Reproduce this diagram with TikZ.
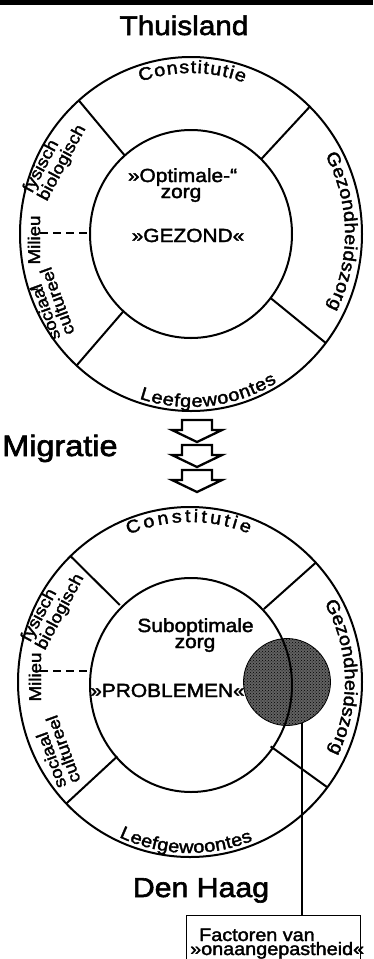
\documentclass[tikz,border=0pt]{standalone}
\usepackage{fontspec}
\setmainfont{Liberation Sans}[FakeStretch=1.1, FakeBold=2]
\newfontfamily\titlefont{Liberation Sans}[FakeStretch=1.1, FakeBold=2.2]
\usetikzlibrary{decorations.text,patterns}
\newcommand{\arcfont}{\fontsize{18}{18}\selectfont}
\begin{document}
\begin{tikzpicture}[x=1pt,y=1pt,
  ring/.style={line width=2pt},
  radial/.style={line width=2pt},
  dashline/.style={line width=2pt, dash pattern=on 8pt off 5pt},
  title/.style={inner sep=0pt, anchor=base},
  intext/.style={inner sep=0pt, anchor=base, font=\fontsize{19}{19}\selectfont},
  side/.style={inner sep=0pt, font=\fontsize{17}{15}\selectfont, align=left},
  boxtxt/.style={inner sep=0pt, anchor=base west, font=\fontsize{18}{18}\selectfont},
  arctext/.style={decorate, decoration={text along path, text={|\arcfont|#1},
     text align={fit to path}}},
  blockarrow/.style={line width=2.3pt, line join=miter, fill=white},
]
\useasboundingbox (0,0) rectangle (373,-959);
\fill (0,0) rectangle (373,-4.5);

% titles
\node[title, font=\titlefont\fontsize{27}{27}\selectfont] (thuis) at (184,-35) {Thuisland};
\node[title, anchor=base west, font=\titlefont\fontsize{29.5}{29.5}\selectfont] (migr) at (2,-456) {Migratie};
\node[title, font=\titlefont\fontsize{27.5}{27.5}\selectfont] (haag) at (201,-897) {Den Haag};

% ---------- top circle ----------
\begin{scope}[shift={(191,-234)}]
  \draw[ring] (0,0) ellipse[x radius=171, y radius=177];
  \draw[ring] (0,0) ellipse[x radius=101, y radius=104];
  \foreach \a in {131,46,-38,-132}
    \draw[radial] (\a:101 and 104) -- (\a:171 and 177);
  \path[arctext={Constitutie}] (109:155 and 161) arc[start angle=109, end angle=70, x radius=155, y radius=161];
  \path[arctext={Leefgewoontes}] (252:167 and 173) arc[start angle=252, end angle=301, x radius=167, y radius=173];
  \path[arctext={Gezondheidszorg}] (29.5:154 and 160) arc[start angle=29.5, end angle=-27.5, x radius=154, y radius=160];
\end{scope}
\draw[dashline] (40,-233) -- (89,-233);
\draw[line width=1.2pt] (31,-290) -- (38,-289);
\node[side, rotate=62] (fb1) at (55,-159) {fysisch\\biologisch};
\node[side, rotate=90] (mil1) at (34,-240) {Milieu};
\node[side, rotate=110] (sc1) at (50,-304) {sociaal\\cultureel};
\node[intext] (opt) at (182.5,-182) {»Optimale-“};
\node[intext] (zorg1) at (181,-198) {zorg};
\node[intext] (gez) at (188,-242) {»GEZOND«};

% ---------- arrows ----------
\foreach \t in {420,445,470}
  \draw[blockarrow] (182,-\t) -- (212,-\t) -- (212,-\t-10) -- (222,-\t-10)
     -- (197,-\t-22) -- (172,-\t-10) -- (182,-\t-10) -- cycle;

% ---------- bottom circle ----------
\node[circle, minimum size=87pt, inner sep=0pt, draw, line width=0.8pt,
      preaction={fill=black!62}, pattern=crosshatch dots, pattern color=black] (hatch) at (287,-682) {};
\begin{scope}[shift={(190,-682)}]
  \draw[ring] (0,0) ellipse[x radius=172, y radius=175];
  \draw[ring] (1,-3) ellipse[x radius=101, y radius=107];
  \foreach \a in {134,43,-37,-136}
    \draw[radial] (\a:101 and 107) -- (\a:172 and 175);
  \path[arctext={Constitutie}] (113:157 and 160) arc[start angle=113, end angle=68, x radius=157, y radius=160];
  \path[arctext={Leefgewoontes}] (245:168 and 171) arc[start angle=245, end angle=292, x radius=168, y radius=171];
  \path[arctext={Gezondheidszorg}] (30:155 and 158) arc[start angle=30, end angle=-25, x radius=155, y radius=158];
\end{scope}
\draw[dashline] (40,-671) -- (88,-671);
\node[side, rotate=62] (fb2) at (53,-608) {fysisch\\biologisch};
\node[side, rotate=90] (mil2) at (35,-677) {Milieu};
\node[side, rotate=110] (sc2) at (56,-752) {sociaal\\cultureel};
\node[intext] (sub) at (195.5,-632) {Suboptimale};
\node[intext] (zorg2) at (195,-648) {zorg};
\node[intext] (prob) at (167.5,-697) {»PROBLEMEN«};

% ---------- box ----------
\node[draw, line width=1.2pt, anchor=north west, minimum width=174pt, minimum height=60pt, inner sep=0pt] (box) at (186,-915) {};
\node[boxtxt] (f1) at (199,-941) {Factoren van};
\node[boxtxt] (f2) at (190,-955) {»onaangepastheid«};
\draw[line width=1.2pt] (hatch.-70) -- (hatch.-70 |- box.north);
\end{tikzpicture}
\end{document}
